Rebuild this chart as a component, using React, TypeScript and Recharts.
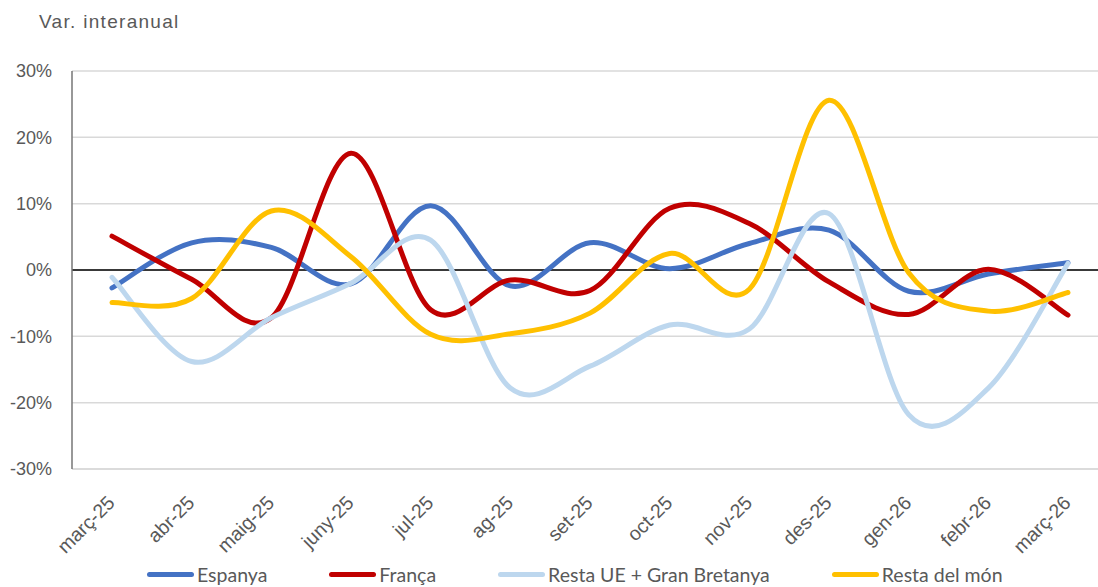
import React from "react";
import {
    LineChart,
    Line,
    XAxis,
    YAxis,
    CartesianGrid,
    Legend,
    ReferenceLine,
} from "recharts";

const months = [
    "març-25", "abr-25", "maig-25", "juny-25", "jul-25", "ag-25", "set-25",
    "oct-25", "nov-25", "des-25", "gen-26", "febr-26", "març-26",
];

const espanya = [-2.7, 4.1, 3.4, -2.1, 9.7, -2.4, 4.1, 0.2, 4.0, 6.0, -3.2, -0.6, 1.1];
const franca = [5.1, -1.4, -7.2, 17.6, -6.0, -1.5, -3.1, 9.3, 7.0, -1.8, -6.7, 0.1, -6.8];
const restaUE = [-1.1, -13.8, -7.2, -2.0, 4.5, -17.8, -14.5, -8.3, -8.9, 8.5, -21.8, -17.8, 1.0];
const restaMon = [-4.9, -4.3, 8.9, 2.0, -9.7, -9.6, -6.5, 2.5, -2.9, 25.6, -0.4, -6.2, -3.4];

const yTicks = [-30, -20, -10, 0, 10, 20, 30];

const series = [
    { key: "espanya", name: "Espanya", color: "#4472C4" },
    { key: "franca", name: "França", color: "#C00000" },
    { key: "restaUE", name: "Resta UE + Gran Bretanya", color: "#BDD7EE" },
    { key: "restaMon", name: "Resta del món", color: "#FFC000" },
];

const data = months.map((month, i) => ({
    month,
    espanya: espanya[i],
    franca: franca[i],
    restaUE: restaUE[i],
    restaMon: restaMon[i],
}));

// smooth line like the spreadsheet one (catmull-rom through every point)
function smoothCurve(context: any) {
    let pts: number[][] = [];
    return {
        areaStart() {},
        areaEnd() {},
        lineStart() {
            pts = [];
        },
        point(x: number, y: number) {
            pts.push([+x, +y]);
        },
        lineEnd() {
            if (!pts.length) return;
            context.moveTo(pts[0][0], pts[0][1]);
            for (let i = 0; i < pts.length - 1; i++) {
                const p0 = pts[i - 1] || pts[i];
                const p1 = pts[i];
                const p2 = pts[i + 1];
                const p3 = pts[i + 2] || p2;
                context.bezierCurveTo(
                    p1[0] + (p2[0] - p0[0]) / 6,
                    p1[1] + (p2[1] - p0[1]) / 6,
                    p2[0] - (p3[0] - p1[0]) / 6,
                    p2[1] - (p3[1] - p1[1]) / 6,
                    p2[0],
                    p2[1]
                );
            }
        },
    };
}

const AxisTick = (props: any) => {
    const { x, y, payload } = props;
    const ax = x + 4;
    const ay = y + 35;
    return (
        <text
            x={ax}
            y={ay}
            textAnchor="end"
            fill="#595959"
            fontSize={19.5}
            fontFamily="Liberation Sans, Arial, sans-serif"
            transform={`rotate(-45, ${ax}, ${ay})`}
        >
            {payload.value}
        </text>
    );
};

const renderLegend = () => (
    <div style={{ display: "flex", height: 24, alignItems: "center", gap: 62 }}>
        {series.map((s) => (
            <div key={s.key} style={{ display: "flex", alignItems: "center" }}>
                <div
                    style={{
                        width: 47,
                        height: 5,
                        borderRadius: 3,
                        background: s.color,
                        marginRight: 3,
                    }}
                />
                <span
                    style={{
                        fontFamily: "Lato, sans-serif",
                        fontSize: 19.5,
                        color: "#595959",
                        whiteSpace: "nowrap",
                    }}
                >
                    {s.name}
                </span>
            </div>
        ))}
    </div>
);

export default function App() {
    return (
        <div
            style={{
                position: "fixed",
                left: 0,
                top: 0,
                width: 1098,
                height: 587,
                overflow: "hidden",
                background: "#fff",
            }}
        >
            <div
                style={{
                    position: "absolute",
                    left: 39,
                    top: 10,
                    fontFamily: "Liberation Sans, Arial, sans-serif",
                    fontSize: 19,
                    lineHeight: "24px",
                    letterSpacing: 1.3,
                    color: "#595959",
                }}
            >
                Var. interanual
            </div>
            <div style={{ position: "absolute", left: 8, top: 8, width: 1102, height: 579 }}>
                <LineChart
                    width={1102}
                    height={579}
                    data={data}
                    margin={{ top: 63, right: 2, left: 0, bottom: 70 }}
                >
                    <CartesianGrid vertical={false} stroke="#d9d9d9" strokeWidth={1.5} />
                    <XAxis
                        dataKey="month"
                        interval={0}
                        padding={{ left: 40, right: 40 }}
                        tickLine={false}
                        tickSize={0}
                        tickMargin={0}
                        axisLine={{ stroke: "#d9d9d9", strokeWidth: 1.5 }}
                        tick={<AxisTick />}
                        height={24}
                    />
                    <YAxis
                        width={64}
                        domain={[-30, 30]}
                        ticks={yTicks}
                        tickFormatter={(v: number) => `${v}%`}
                        tickLine={false}
                        tickSize={0}
                        tickMargin={20}
                        axisLine={{ stroke: "#767676", strokeWidth: 1.5 }}
                        tick={{ fill: "#595959", fontSize: 18, fontFamily: "Liberation Sans, Arial, sans-serif" }}
                    />
                    <ReferenceLine y={0} stroke="#000" strokeWidth={1.3} />
                    {series.map((s) => (
                        <Line
                            key={s.key}
                            dataKey={s.key}
                            name={s.name}
                            type={smoothCurve as any}
                            stroke={s.color}
                            strokeWidth={5}
                            strokeLinecap="round"
                            dot={false}
                            activeDot={false}
                            isAnimationActive={false}
                        />
                    ))}
                    <Legend
                        content={renderLegend}
                        wrapperStyle={{ left: 139, bottom: 1, width: "auto" }}
                    />
                </LineChart>
            </div>
        </div>
    );
}
